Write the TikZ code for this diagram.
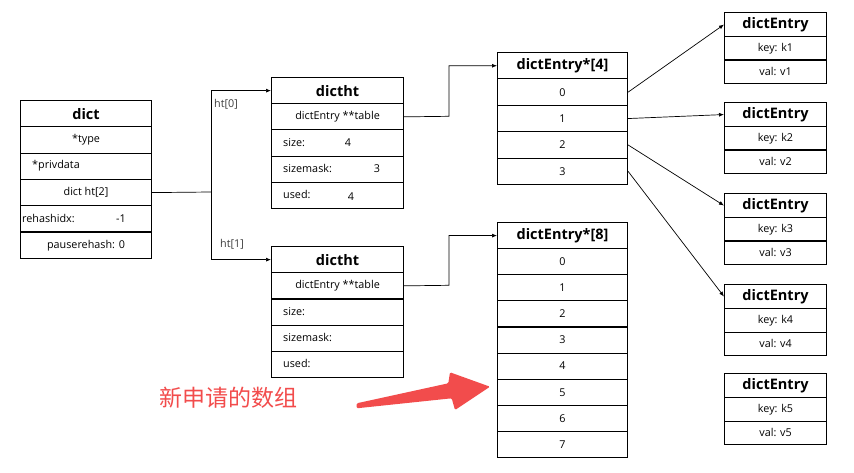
\documentclass[tikz,border=0pt]{standalone}
\usepackage{fontspec}
\setmainfont{Open Sans}
\newfontfamily\cjkfont{Noto Sans CJK SC}
\usetikzlibrary{arrows.meta}
\definecolor{redmark}{RGB}{242,76,76}
\definecolor{lbl}{RGB}{60,60,60}
\newcommand{\rowfnt}{\fontsize{10.8}{12}\selectfont}
\newcommand{\headfnt}{\fontsize{14.5}{16}\selectfont\bfseries}
\tikzset{
  cell/.style={draw, line width=1.1pt, inner sep=0pt, anchor=north west, font=\rowfnt},
  headcell/.style={cell, font=\headfnt},
  txt/.style={inner sep=0pt, font=\rowfnt, anchor=west},
  conn/.style={line width=0.7pt},
  arr/.style={conn, -{Latex[length=5pt,width=4pt]}},
}
\begin{document}
\begin{tikzpicture}[x=1pt,y=-1pt]
\useasboundingbox (0,0) rectangle (854,473);
% dict
\node[headcell, minimum width=131pt, minimum height=26.3pt] (dh) at (20,100) {dict};
\node[cell, minimum width=131pt, minimum height=26.3pt] (d1) at (20,126.3) {*type};
\node[cell, minimum width=131pt, minimum height=26.3pt] (d2) at (20,152.6) {};
\node[cell, minimum width=131pt, minimum height=26.3pt] (d3) at (20,178.9) {dict ht[2]};
\node[cell, minimum width=131pt, minimum height=26.3pt] (d4) at (20,205.2) {};
\node[cell, minimum width=131pt, minimum height=26.3pt] (d5) at (20,231.5) {pauserehash: 0};
\node[txt] (d2t) at (32,165.8) {*privdata};
\node[txt] (d4t) at (22,218.3) {rehashidx:};
\node[txt, anchor=center] (d4v) at (121,218.3) {-1};
% dictht 0
\node[headcell, minimum width=132pt, minimum height=26.2pt] (ah) at (271,77) {dictht};
\node[cell, minimum width=132pt, minimum height=26.2pt] (a1) at (271,103.2) {dictEntry **table};
\node[cell, minimum width=132pt, minimum height=26.2pt] (a2) at (271,129.4) {};
\node[cell, minimum width=132pt, minimum height=26.2pt] (a3) at (271,155.6) {};
\node[cell, minimum width=132pt, minimum height=26.2pt] (a4) at (271,181.8) {};
\node[txt] (a2t) at (283,142.5) {size:};
\node[txt, anchor=center] (a2v) at (348,142.5) {4};
\node[txt] (a3t) at (283,168.7) {sizemask:};
\node[txt, anchor=center] (a3v) at (377,168.7) {3};
\node[txt] (a4t) at (283,194.9) {used:};
\node[txt, anchor=center] (a4v) at (351,196.5) {4};
% dictht 1
\node[headcell, minimum width=132pt, minimum height=26.2pt] (bh) at (271,246) {dictht};
\node[cell, minimum width=132pt, minimum height=26.2pt] (b1) at (271,272.2) {dictEntry **table};
\node[cell, minimum width=132pt, minimum height=26.2pt] (b2) at (271,298.4) {};
\node[cell, minimum width=132pt, minimum height=26.2pt] (b3) at (271,324.6) {};
\node[cell, minimum width=132pt, minimum height=26.2pt] (b4) at (271,350.8) {};
\node[txt] (b2t) at (283,311.5) {size:};
\node[txt] (b3t) at (283,337.7) {sizemask:};
\node[txt] (b4t) at (283,363.9) {used:};
% array 4
\node[headcell, minimum width=130pt, minimum height=26.4pt] (ph) at (497,52) {dictEntry*[4]};
\foreach \i in {0,...,3}{
  \node[cell, minimum width=130pt, minimum height=26.4pt] (p\i) at (497,{78.4+26.4*\i}) {\i};
}
% array 8
\node[headcell, minimum width=130pt, minimum height=26.1pt] (qh) at (497,222) {dictEntry*[8]};
\foreach \i in {0,...,7}{
  \node[cell, minimum width=130pt, minimum height=26.1pt] (q\i) at (497,{248.1+26.1*\i}) {\i};
}
% entries
\foreach \n/\y in {1/12,2/102,3/193,4/284,5/373}{
  \node[headcell, minimum width=102pt, minimum height=24pt] (e\n h) at (724,\y) {dictEntry};
  \node[cell, minimum width=102pt, minimum height=23.5pt] (e\n k) at (724,\y+24) {key: k\n};
  \node[cell, minimum width=102pt, minimum height=23.5pt] (e\n v) at (724,\y+47.5) {val: v\n};
}
% connectors
\coordinate (jn) at (211,192);
\draw[conn] (d3.east) -- (jn);
\draw[arr] (jn) |- (ah.west);
\draw[arr] (jn) |- (bh.west);
\node[txt, text=lbl] (l0) at (214,104.5) {ht[0]};
\node[txt, text=lbl] (l1) at (220,244.5) {ht[1]};
\coordinate (ja) at (449,116.3);
\coordinate (jb) at (449,285.3);
\draw[arr] (a1.east) -- (ja) |- (ph.west);
\draw[arr] (b1.east) -- (jb) |- (qh.west);
\draw[arr] (p0.east) -- (e1h.west);
\draw[arr] (p1.east) -- (e2h.west);
\draw[arr] (p2.east) -- (e3h.west);
\draw[arr] (p3.east) -- (e4h.west);
% red annotation
\node[inner sep=0pt, anchor=west, text=redmark, font=\cjkfont\fontsize{23}{26}\selectfont] (note) at (159,398) {新申请的数组};
\fill[redmark, rounded corners=1.2pt] (356.7,403.3) -- (448.3,383.3) -- (450,372.3) -- (490,386.7) -- (455,410) -- (451.7,398.3) -- (356.7,408.3) -- cycle;
\end{tikzpicture}
\end{document}
